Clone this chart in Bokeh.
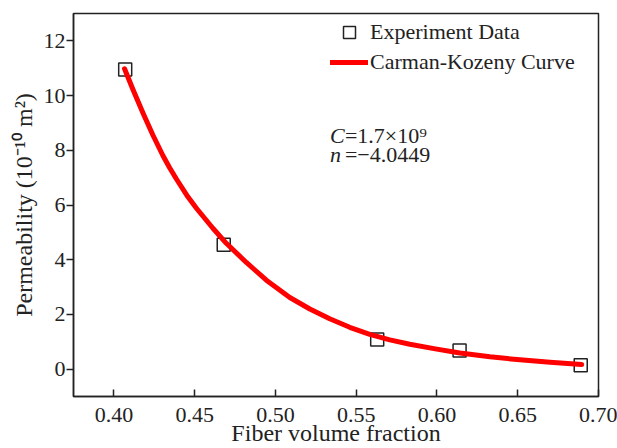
from bokeh.plotting import figure
from bokeh.models import Range1d, FixedTicker, Label, Legend, LegendItem, NumeralTickFormatter
from bokeh.embed import file_html
from bokeh.resources import INLINE

# ---- data ----
exp_x = [0.407, 0.468, 0.563, 0.614, 0.689]
exp_y = [10.95, 4.55, 1.08, 0.68, 0.14]

curve_x = [0.4066, 0.4118, 0.4180, 0.4242, 0.4304, 0.4345, 0.4387, 0.4458, 0.4511, 0.4613,
           0.4696, 0.4820, 0.4944, 0.5089, 0.5213, 0.5336, 0.5460, 0.5584, 0.5708,
           0.5832, 0.5990, 0.6142, 0.6328, 0.6514, 0.6700, 0.6896]
curve_y = [10.98, 10.22, 9.36, 8.55, 7.80, 7.36, 6.95, 6.30, 5.88, 5.15,
           4.60, 3.90, 3.25, 2.62, 2.20, 1.84, 1.53, 1.27, 1.07,
           0.91, 0.74, 0.59, 0.45, 0.34, 0.25, 0.17]

x_ticks = [0.40, 0.45, 0.50, 0.55, 0.60, 0.65, 0.70]
y_ticks = [0, 2, 4, 6, 8, 10, 12]

label_C = ("C", "=1.7×10⁹")
label_n = ("n", "=−4.0449")

FONT = "Liberation Serif"
TXT = "#222222"

p = figure(width=617, height=448, output_backend="svg", toolbar_location=None,
           x_range=Range1d(0.375, 0.70), y_range=Range1d(-1, 13),
           min_border_left=73, min_border_right=19, min_border_top=13, min_border_bottom=50,
           background_fill_color="white", border_fill_color="white")

p.grid.visible = False
p.outline_line_color = TXT
p.outline_line_width = 1.5

p.xaxis.ticker = FixedTicker(ticks=x_ticks)
p.yaxis.ticker = FixedTicker(ticks=y_ticks)
p.xaxis.formatter = NumeralTickFormatter(format="0.00")
p.yaxis.formatter = NumeralTickFormatter(format="0")

for ax in (p.xaxis[0], p.yaxis[0]):
    ax.axis_line_color = TXT
    ax.axis_line_width = 1.5
    ax.major_tick_line_color = TXT
    ax.major_tick_line_width = 1.5
    ax.minor_tick_line_color = None
    ax.major_label_text_font = FONT
    ax.major_label_text_font_size = "22px"
    ax.major_label_text_color = TXT
    ax.axis_label_text_font = FONT
    ax.axis_label_text_font_style = "normal"
    ax.axis_label_text_font_size = "24px"
    ax.axis_label_text_color = TXT

p.xaxis.major_tick_in = 7
p.xaxis.major_tick_out = 0
p.xaxis.major_label_standoff = 11
p.xaxis.axis_label_standoff = -5
p.xaxis.axis_label = "Fiber volume fraction"

p.yaxis.major_tick_in = 0
p.yaxis.major_tick_out = 7
p.yaxis.major_label_standoff = 1
p.yaxis.axis_label_standoff = 4
p.yaxis.axis_label = "Permeability (10⁻¹⁰ m²)"

sq = p.scatter(exp_x, exp_y, marker="square", size=13, fill_color=None,
               line_color=TXT, line_width=1.5)
ln = p.line(curve_x, curve_y, line_color="#ff0000", line_width=5, line_cap="round",
            line_join="round")

legend = Legend(items=[LegendItem(label="Experiment Data", renderers=[sq]),
                       LegendItem(label="Carman-Kozeny Curve", renderers=[ln])],
                location=(257, 319), padding=0, margin=0, spacing=-3,
                glyph_width=38, glyph_height=30, label_height=30, label_standoff=2,
                border_line_alpha=0, background_fill_alpha=0,
                label_text_font=FONT, label_text_font_size="22px", label_text_color=TXT)
p.add_layout(legend)

for (sym, rest), yv in ((label_C, 8.55), (label_n, 7.86)):
    p.add_layout(Label(x=0.5338, y=yv, text=sym, text_font=FONT, text_font_style="italic",
                       text_font_size="22px", text_color=TXT, text_baseline="alphabetic"))
    p.add_layout(Label(x=0.5430, y=yv, text=rest, text_font=FONT,
                       text_font_size="22px", text_color=TXT, text_baseline="alphabetic"))

open("out.html", "w").write(file_html(p, INLINE))
